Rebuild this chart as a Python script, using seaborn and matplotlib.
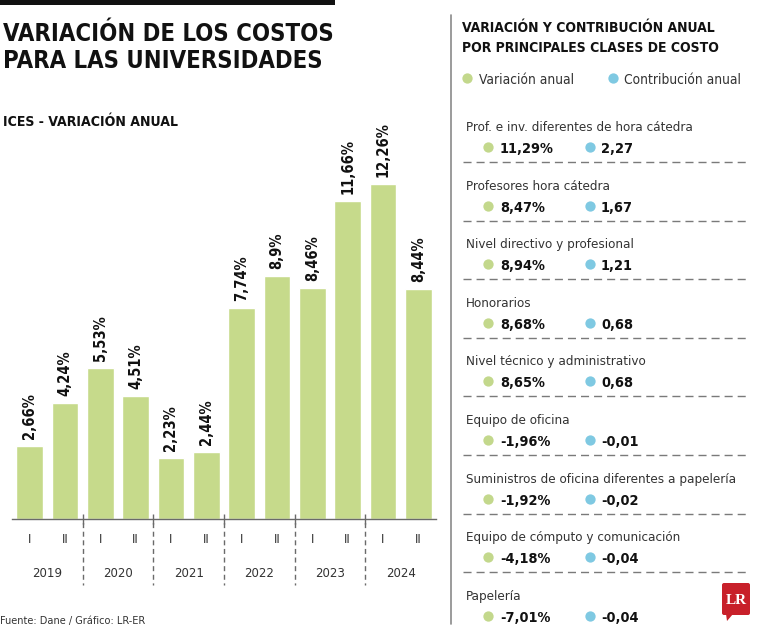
import matplotlib
matplotlib.use("Agg")
import matplotlib.pyplot as plt
import matplotlib.transforms as mtransforms
from matplotlib import font_manager
from matplotlib.patches import FancyBboxPatch, Polygon, Rectangle
import seaborn as sns
import pandas as pd

# ---------------- data ----------------
years = ["2019", "2020", "2021", "2022", "2023", "2024"]
halves = ["I", "II"]
ices_values = [2.66, 4.24, 5.53, 4.51, 2.23, 2.44, 7.74, 8.9, 8.46, 11.66, 12.26, 8.44]

cost_classes = [
    "Prof. e inv. diferentes de hora cátedra",
    "Profesores hora cátedra",
    "Nivel directivo y profesional",
    "Honorarios",
    "Nivel técnico y administrativo",
    "Equipo de oficina",
    "Suministros de oficina diferentes a papelería",
    "Equipo de cómputo y comunicación",
    "Papelería",
]
variacion_anual = [11.29, 8.47, 8.94, 8.68, 8.65, -1.96, -1.92, -4.18, -7.01]
contribucion_anual = [2.27, 1.67, 1.21, 0.68, 0.68, -0.01, -0.02, -0.04, -0.04]

GREEN = "#c6da8b"
GREEN_DOT = "#c3d88c"
BLUE_DOT = "#7fc9e2"
GRAY = "#6a6a6a"

# ---------------- style / fonts ----------------
sns.set_style("white")
available = {f.name for f in font_manager.fontManager.ttflist}
COND = "Liberation Sans Narrow" if "Liberation Sans Narrow" in available else "DejaVu Sans"
plt.rcParams["font.family"] = [COND, "DejaVu Sans"]
if COND == "DejaVu Sans":
    plt.rcParams["font.stretch"] = "condensed"

W, H = 758, 632
fig = plt.figure(figsize=(W / 100, H / 100), dpi=100)
fig.patch.set_facecolor("white")
renderer = fig.canvas.get_renderer()


def fit_size(s, target_px, weight="normal", base=20.0):
    """font size (pt) so that string s is target_px wide"""
    t = fig.text(0, 0, s, fontsize=base, fontweight=weight)
    w = t.get_window_extent(renderer).width
    t.remove()
    return base * target_px / w


# ---------------- bar chart ----------------
df = pd.DataFrame({
    "period": [f"{y}-{h}" for y in years for h in halves],
    "half": [h for y in years for h in halves],
    "value": ices_values,
})

left_px, right_px, base_px = 12, 436, 519
px_per_unit = 27.3
ymax = 14
top_px = base_px - ymax * px_per_unit
ax = fig.add_axes([left_px / W, 1 - base_px / H, (right_px - left_px) / W, (base_px - top_px) / H])

sns.barplot(data=df, x="period", y="value", color=GREEN, saturation=1, width=0.75, ax=ax)
ax.set_xlim(-0.5, len(ices_values) - 0.5)
ax.set_ylim(0, ymax)
ax.set_xlabel("")
ax.set_ylabel("")
ax.set_yticks([])
for s in ["left", "right", "top"]:
    ax.spines[s].set_visible(False)
ax.spines["bottom"].set_color(GRAY)
ax.spines["bottom"].set_linewidth(1)

tick_fs = fit_size("2019", 30)
ax.set_xticks(range(len(ices_values)))
ax.set_xticklabels(df["half"], fontsize=tick_fs, color="#333333")
ax.tick_params(axis="x", which="major", length=0, pad=10)
bounds = [i - 0.5 for i in range(len(ices_values) + 1)]
ax.set_xticks(bounds, minor=True)
ax.tick_params(axis="x", which="minor", direction="in", length=4.5, width=1, color=GRAY)

labels = [f"{v:g}".replace(".", ",") + "%" for v in ices_values]
lab_fs = fit_size("12,26%", 55, weight="bold")
for cont in ax.containers:
    ax.bar_label(cont, labels=labels, rotation=90, padding=5, fontsize=lab_fs,
                 fontweight="bold", color="#111111")

trans = mtransforms.blended_transform_factory(ax.transData, ax.transAxes)
dash_len = (base_px - 585) / (base_px - top_px)
for k in range(1, len(years)):
    xb = 2 * k - 0.5
    ax.plot([xb, xb], [0.012, dash_len], transform=trans, clip_on=False,
            color=GRAY, lw=1, linestyle=(0, (3.6, 2.6)))
    ax.plot([xb, xb], [0, -0.012], transform=trans, clip_on=False, color=GRAY, lw=1)
for k, y in enumerate(years):
    ax.annotate(y, xy=(2 * k + 0.5, 0), xycoords=trans, xytext=(0, -(577 - base_px) * 0.72),
                textcoords="offset points", ha="center", va="baseline", fontsize=tick_fs,
                color="#333333")

# ---------------- overlay for text ----------------
ov = fig.add_axes([0, 0, 1, 1], zorder=5)
ov.set_xlim(0, W)
ov.set_ylim(H, 0)
ov.axis("off")

ov.add_patch(Rectangle((0, 0), 335, 5, color="#111111", lw=0))
title_fs = fit_size("VARIACIÓN DE LOS COSTOS", 330, weight="bold")
ov.text(3, 41, "VARIACIÓN DE LOS COSTOS", fontsize=title_fs, fontweight="bold", color="#111111", va="baseline")
ov.text(3, 68, "PARA LAS UNIVERSIDADES", fontsize=title_fs, fontweight="bold", color="#111111", va="baseline")
sub_fs = fit_size("ICES - VARIACIÓN ANUAL", 175, weight="bold")
ov.text(3, 126, "ICES - VARIACIÓN ANUAL", fontsize=sub_fs, fontweight="bold", color="#111111", va="baseline")
foot_fs = fit_size("Fuente: Dane / Gráfico: LR-ER", 145)
ov.text(0, 624, "Fuente: Dane / Gráfico: LR-ER", fontsize=foot_fs, color="#333333", va="baseline")

# right panel
ov.plot([451, 451], [15, 624], color="#8a8a8a", lw=1.2)
rt_fs = fit_size("VARIACIÓN Y CONTRIBUCIÓN ANUAL", 255, weight="bold")
ov.text(462, 32, "VARIACIÓN Y CONTRIBUCIÓN ANUAL", fontsize=rt_fs, fontweight="bold", color="#111111", va="baseline")
ov.text(462, 52, "POR PRINCIPALES CLASES DE COSTO", fontsize=rt_fs, fontweight="bold", color="#111111", va="baseline")
leg_fs = fit_size("Contribución anual", 117)
ov.scatter([467], [78], s=55, color=GREEN_DOT, lw=0)
ov.text(479, 84, "Variación anual", fontsize=leg_fs, color="#333333", va="baseline")
ov.scatter([613], [78], s=55, color=BLUE_DOT, lw=0)
ov.text(624, 84, "Contribución anual", fontsize=leg_fs, color="#333333", va="baseline")

name_fs = fit_size("Prof. e inv. diferentes de hora cátedra", 227)
val_fs = fit_size("11,29%", 54, weight="bold")
step = 58.6
for i, (name, v, c) in enumerate(zip(cost_classes, variacion_anual, contribucion_anual)):
    yb = 131 + i * step
    ov.text(466, yb, name, fontsize=name_fs, color="#333333", va="baseline")
    ov.scatter([488], [yb + 16], s=55, color=GREEN_DOT, lw=0)
    ov.text(500, yb + 22, f"{v:.2f}".replace(".", ",") + "%", fontsize=val_fs,
            fontweight="bold", color="#111111", va="baseline")
    ov.scatter([590], [yb + 16], s=55, color=BLUE_DOT, lw=0)
    ov.text(601, yb + 22, f"{c:.2f}".replace(".", ","), fontsize=val_fs,
            fontweight="bold", color="#111111", va="baseline")
    if i < len(cost_classes) - 1:
        ov.plot([463, 748], [yb + 31, yb + 31], color="#7a7a7a", lw=1,
                linestyle=(0, (5.8, 3.6)))

# LR logo
ov.add_patch(FancyBboxPatch((722, 583), 28, 32, boxstyle="round,pad=0,rounding_size=2",
                            color="#c8202a", lw=0))
ov.add_patch(Polygon([[726, 614], [733, 614], [727, 621]], closed=True, color="#c8202a", lw=0))
ov.text(736, 600, "LR", fontsize=11, fontweight="bold", color="white", ha="center", va="center",
        family=["Liberation Serif", "DejaVu Serif"])

fig.savefig("out.png", dpi=100, facecolor="white")
